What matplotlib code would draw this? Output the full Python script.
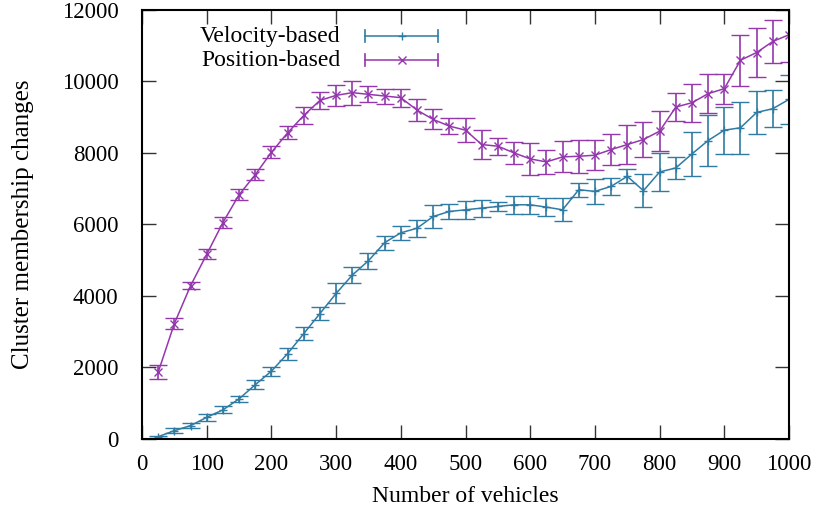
import matplotlib
matplotlib.use("Agg")
import matplotlib.pyplot as plt
from matplotlib.lines import Line2D

plt.rcParams["font.family"] = ["Liberation Serif", "DejaVu Serif"]

vehicles = [25, 50, 75, 100, 125, 150, 175, 200, 225, 250,
            275, 300, 325, 350, 375, 400, 425, 450, 475, 500,
            525, 550, 575, 600, 625, 650, 675, 700, 725, 750,
            775, 800, 825, 850, 875, 900, 925, 950, 975, 1000]

velocity_mean = [65, 233, 373, 606, 813, 1122, 1515, 1896, 2384, 2945,
                 3506, 4067, 4580, 4982, 5487, 5760, 5890, 6217, 6357, 6404,
                 6451, 6497, 6544, 6544, 6479, 6404, 6965, 6918, 7058, 7339,
                 6937, 7461, 7573, 7966, 8340, 8629, 8696, 9125, 9229, 9490]
velocity_err = [30, 70, 70, 93, 100, 93, 130, 126, 163, 187,
                177, 280, 233, 220, 196, 187, 233, 310, 215, 245,
                235, 117, 252, 252, 245, 318, 200, 360, 230, 196,
                458, 528, 295, 617, 725, 660, 734, 610, 510, 690]

position_mean = [1868, 3226, 4281, 5161, 6047, 6824, 7385, 8010, 8555, 9040,
                 9461, 9601, 9677, 9630, 9583, 9537, 9190, 8929, 8742, 8629,
                 8227, 8181, 7994, 7826, 7742, 7882, 7900, 7929, 8087, 8227,
                 8368, 8601, 9274, 9396, 9649, 9789, 10583, 10799, 11108, 11295]
position_err = [187, 163, 93, 135, 150, 155, 150, 163, 178, 233,
                248, 290, 336, 224, 210, 252, 304, 280, 224, 327,
                411, 243, 304, 458, 327, 435, 458, 420, 435, 537,
                477, 551, 388, 528, 551, 420, 710, 687, 612, 757]

xticks = list(range(0, 1001, 100))
yticks = list(range(0, 12001, 2000))

blue = "#2f7ba3"
purple = "#9437ad"

fig = plt.figure(figsize=(8.13, 5.12), dpi=100)
ax = fig.add_axes([0.1747, 0.1426, 0.9705 - 0.1747, 0.9814 - 0.1426])

series = [
    ("Velocity-based", velocity_mean, velocity_err, blue, "+"),
    ("Position-based", position_mean, position_err, purple, "x"),
]
for label, mean, err, color, marker in series:
    ax.errorbar(vehicles, mean, yerr=err, color=color, ecolor=color,
                elinewidth=1.2, capsize=6.5, capthick=1.2, lw=1.1,
                marker=marker, markersize=6, markeredgewidth=1.0,
                clip_on=True)

ax.set_xlim(0, 1000)
ax.set_ylim(0, 12000)
ax.set_xticks(xticks)
ax.set_yticks(yticks)
ax.tick_params(axis="both", which="both", direction="in", length=10,
               width=1.0, color="#333333", top=True, right=True,
               labelsize=16.5)
ax.tick_params(axis="x", pad=11)
ax.tick_params(axis="y", pad=17)
for sp in ax.spines.values():
    sp.set_linewidth(1.5)
    sp.set_color("black")

ax.set_xlabel("Number of vehicles", fontsize=17, labelpad=8)
ax.set_ylabel("Cluster membership changes", fontsize=18, labelpad=20)

# gnuplot-style key: right-aligned text with a capped error bar sample
key_rows = [(0.9383, "Velocity-based", blue, "+"),
            (0.8823, "Position-based", purple, "x")]
x_text, x0, x1 = 0.307, 0.345, 0.458
for yy, label, color, marker in key_rows:
    ax.text(x_text, yy, label, transform=ax.transAxes, ha="right",
            va="center", fontsize=17)
    ax.add_line(Line2D([x0, x1], [yy, yy], transform=ax.transAxes,
                       color=color, lw=1.1))
    for xc in (x0, x1):
        ax.add_line(Line2D([xc, xc], [yy - 0.014, yy + 0.014],
                           transform=ax.transAxes, color=color, lw=1.2))
    ax.add_line(Line2D([(x0 + x1) / 2], [yy], transform=ax.transAxes,
                       color=color, marker=marker, markersize=6,
                       markeredgewidth=1.0, lw=0))

fig.savefig("out.png", dpi=100)
